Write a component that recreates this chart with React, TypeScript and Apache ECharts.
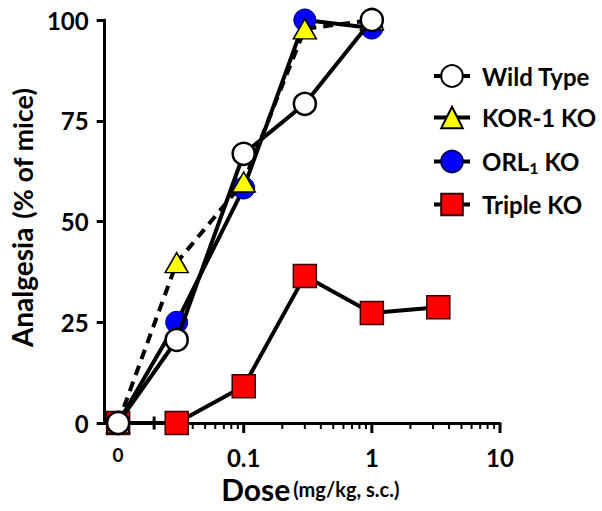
import React, { useEffect, useRef } from 'react';
import * as echarts from 'echarts';

// ---- data ----
const DOSES = [0, 0.03, 0.1, 0.3, 1];
const TRIPLE_DOSES = [0, 0.03, 0.1, 0.3, 1, 3.3];
const WILD_TYPE = [0, 20.6, 66.8, 79.2, 100];
const KOR1_KO = [0, 39.8, 59.8, 97.8, 100];
const ORL1_KO = [0, 25, 58.3, 100, 98];
const TRIPLE_KO = [0, 0, 9.1, 36.5, 27.3, 28.7];

// ---- axis ticks ----
const X_MAJOR = [0.1, 1, 10];
const X_MINOR = [
  0.03, 0.04, 0.05, 0.06, 0.07, 0.08, 0.09,
  0.2, 0.3, 0.4, 0.5, 0.6, 0.7, 0.8, 0.9,
  2, 3, 4, 5, 6, 7, 8, 9,
];
const X_BREAK = [0.02];
const LEGEND_ORDER = ['Wild Type', 'KOR-1 KO', 'ORL1 KO', 'Triple KO'];

// position used for dose 0 on the log10 axis (left of the axis break)
const ZERO_T = -1.98;
const X_MIN_T = -2.085;
const X_MAX_T = 1;

const toT = (d: number) => (d === 0 ? ZERO_T : Math.log10(d));
const pairs = (doses: number[], vals: number[]) => doses.map((d, i) => [toT(d), vals[i]]);
const onAxis = (doses: number[]) => doses.map((d) => [Math.log10(d), 0]);

const FONT = 'Lato';

export default function App() {
  const ref = useRef<HTMLDivElement>(null);
  useEffect(() => {
    if (!ref.current) return;
    const chart = echarts.init(ref.current, undefined, { renderer: 'svg' });

    const lineBase = { width: 4, color: '#000' };
    const tickSeries = (name: string, data: number[][], size: number[], offsetY: number) => ({
      type: 'scatter',
      name,
      data,
      symbol: 'rect',
      symbolSize: size,
      symbolOffset: [0, offsetY],
      itemStyle: { color: '#000', opacity: 1 },
      silent: true,
      clip: false,
      z: 1,
    });

    const option: any = {
      animation: false,
      backgroundColor: '#fff',
      textStyle: { fontFamily: FONT, fontWeight: 'bold', color: '#000' },
      grid: { left: 98, right: 102, top: 20, bottom: 88, containLabel: false },
      legend: {
        data: LEGEND_ORDER,
        orient: 'vertical',
        left: 427,
        top: 59,
        itemWidth: 36,
        itemHeight: 27,
        itemGap: 17.5,
        lineStyle: { type: 'solid', width: 4 },
        selectedMode: false,
        formatter: (n: string) => (n === 'ORL1 KO' ? '{m|ORL}{sub|1}{m| KO}' : '{m|' + n + '}'),
        textStyle: {
          fontFamily: FONT,
          fontWeight: 'bold',
          fontSize: 24,
          color: '#000',
          padding: [0, 0, 0, 7],
          rich: {
            m: { fontFamily: FONT, fontWeight: 'bold', fontSize: 24, color: '#000', lineHeight: 27 },
            sub: {
              fontFamily: FONT,
              fontWeight: 'bold',
              fontSize: 16,
              color: '#000',
              lineHeight: 27,
              verticalAlign: 'bottom',
              padding: [12, 0, 0, 0],
            },
          },
        },
      },
      xAxis: [
        {
          type: 'value',
          min: X_MIN_T,
          max: X_MAX_T,
          splitLine: { show: false },
          axisLine: { show: true, lineStyle: { color: '#000', width: 3 } },
          axisTick: { show: false },
          axisLabel: {
            customValues: [ZERO_T, ...X_MAJOR.map((d) => Math.log10(d))],
            margin: 22,
            fontSize: 24,
            fontFamily: FONT,
            fontWeight: 'bold',
            color: '#000',
            formatter: (v: number) => {
              if (Math.abs(v - ZERO_T) < 1e-6) return '{s|0}';
              const d = Number(Math.pow(10, v).toPrecision(1));
              return String(d);
            },
            rich: {
              s: { fontSize: 19, fontFamily: FONT, fontWeight: 'bold', color: '#000', padding: [0, 0, 8, 0] },
            },
          },
          name: '{a|Dose} {b|(mg/kg, s.c.)}',
          nameLocation: 'middle',
          nameGap: 51,
          nameTextStyle: {
            padding: [0, 0, 0, 16],
            rich: {
              a: { fontSize: 30, fontFamily: FONT, fontWeight: 'bold', color: '#000' },
              b: { fontSize: 20, fontFamily: FONT, fontWeight: 'bold', color: '#000' },
            },
          },
        },
      ],
      yAxis: {
        type: 'value',
        min: 0,
        max: 100,
        interval: 25,
        splitLine: { show: false },
        axisLine: { show: true, onZero: false, lineStyle: { color: '#000', width: 3 } },
        axisTick: { show: true, length: 8, lineStyle: { color: '#000', width: 3 } },
        axisLabel: {
          margin: 16,
          fontSize: 24,
          fontFamily: FONT,
          fontWeight: 'bold',
          color: '#000',
        },
        name: '{a|Analgesia}   {b|(% of mice)}',
        nameLocation: 'middle',
        nameRotate: 90,
        nameGap: 56,
        nameTextStyle: {
          padding: [0, 0, 0, 8],
          rich: {
            a: { fontSize: 28, fontFamily: FONT, fontWeight: 'bold', color: '#000' },
            b: { fontSize: 27, fontFamily: FONT, fontWeight: 'bold', color: '#000' },
          },
        },
      },
      series: [
        tickSeries('minor-ticks', onAxis(X_MINOR), [2, 6], 3),
        tickSeries('major-ticks', onAxis(X_MAJOR), [3, 10], 5),
        tickSeries('axis-break', onAxis(X_BREAK), [3, 13], 0),
        {
          type: 'line',
          name: 'Triple KO',
          data: pairs(TRIPLE_DOSES, TRIPLE_KO),
          symbol: 'rect',
          symbolSize: 23,
          lineStyle: { ...lineBase },
          itemStyle: { color: '#ff0000', borderColor: '#3a0000', borderWidth: 1.5 },
          z: 2,
        },
        {
          type: 'line',
          name: 'ORL1 KO',
          data: pairs(DOSES, ORL1_KO),
          symbol: 'circle',
          symbolSize: 22,
          lineStyle: { ...lineBase },
          itemStyle: { color: '#0000ff', borderColor: '#000060', borderWidth: 1 },
          z: 3,
        },
        {
          type: 'line',
          name: 'KOR-1 KO',
          data: pairs(DOSES, KOR1_KO),
          symbol: 'triangle',
          symbolSize: [23, 20],
          lineStyle: { ...lineBase, type: [10, 7] },
          itemStyle: { color: '#ffff00', borderColor: '#000', borderWidth: 1.5 },
          z: 4,
        },
        {
          type: 'line',
          name: 'Wild Type',
          data: pairs(DOSES, WILD_TYPE),
          symbol: 'circle',
          symbolSize: 22,
          lineStyle: { ...lineBase },
          itemStyle: { color: '#ffffff', borderColor: '#000', borderWidth: 2.5 },
          z: 5,
        },
      ],
    };

    chart.setOption(option);
    return () => chart.dispose();
  }, []);

  return (
    <div
      ref={ref}
      style={{ position: 'fixed', left: 0, top: 0, width: 602, height: 511, background: '#fff' }}
    />
  );
}
